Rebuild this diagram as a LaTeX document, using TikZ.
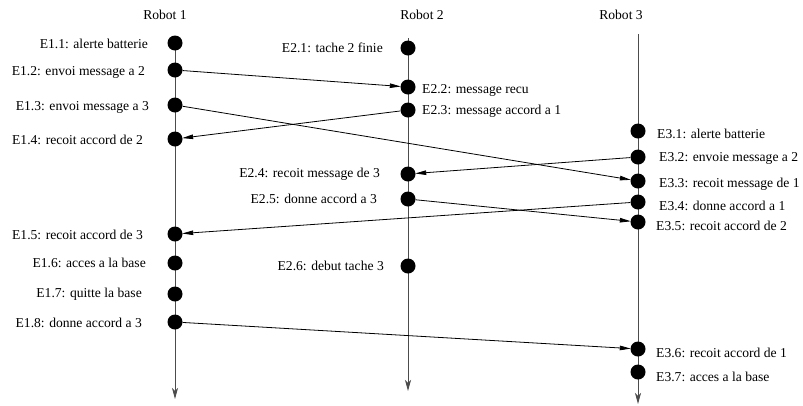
\documentclass[tikz,border=0pt]{standalone}
\usepackage{fontspec}
\setmainfont{Liberation Serif}
\usetikzlibrary{arrows.meta}
\begin{document}
\begin{tikzpicture}[x=1pt,y=-1pt,
  ev/.style={circle,fill=black,inner sep=0pt,minimum size=15pt},
  lbl/.style={inner sep=0pt,font=\fontsize{13.6}{16}\selectfont},
  life/.style={draw=black!70,line width=0.9pt,-{Stealth[length=11pt,width=6pt,inset=3pt]}},
  msg/.style={draw=black,line width=0.8pt,-{Triangle[length=11pt,width=4.5pt]},shorten >=-0.5pt}]
\useasboundingbox (0,0) rectangle (803,405);
% titles
\node[lbl] (t1) at (165,15) {Robot 1};
\node[lbl] (t2) at (422,15) {Robot 2};
\node[lbl] (t3) at (621,15) {Robot 3};
% lifeline ends
\coordinate (s1) at (175,43);
\coordinate (f1) at (175,399);
\coordinate (s2) at (408,38);
\coordinate (f2) at (408,391);
\coordinate (s3) at (638,34);
\coordinate (f3) at (638,404);
\draw[life] (s1) -- (f1);
\draw[life] (s2) -- (f2);
\draw[life] (s3) -- (f3);
% robot 1 events
\node[ev] (e11) at (175,43) {};
\node[ev] (e12) at (175,70) {};
\node[ev] (e13) at (175,105) {};
\node[ev] (e14) at (175,139) {};
\node[ev] (e15) at (175,234) {};
\node[ev] (e16) at (175,263) {};
\node[ev] (e17) at (175,294) {};
\node[ev] (e18) at (175,322) {};
% robot 2 events
\node[ev] (e21) at (408,48) {};
\node[ev] (e22) at (408,87) {};
\node[ev] (e23) at (408,110) {};
\node[ev] (e24) at (408,174) {};
\node[ev] (e25) at (408,199) {};
\node[ev] (e26) at (408,266) {};
% robot 3 events
\node[ev] (e31) at (638,131) {};
\node[ev] (e32) at (638,157) {};
\node[ev] (e33) at (638,181) {};
\node[ev] (e34) at (638,202) {};
\node[ev] (e35) at (638,222) {};
\node[ev] (e36) at (638,349) {};
\node[ev] (e37) at (638,372) {};
% labels robot 1
\node[lbl,anchor=east] (l11) at (148,44) {E1.1: alerte batterie};
\node[lbl,anchor=east] (l12) at (145,72) {E1.2: envoi message a 2};
\node[lbl,anchor=east] (l13) at (149,107) {E1.3: envoi message a 3};
\node[lbl,anchor=east] (l14) at (143,140) {E1.4: recoit accord de 2};
\node[lbl,anchor=east] (l15) at (143,235) {E1.5: recoit accord de 3};
\node[lbl,anchor=east] (l16) at (146,263) {E1.6: acces a la base};
\node[lbl,anchor=east] (l17) at (142,294) {E1.7: quitte la base};
\node[lbl,anchor=east] (l18) at (142,323) {E1.8: donne accord a 3};
% labels robot 2
\node[lbl,anchor=east] (l21) at (383,48) {E2.1: tache 2 finie};
\node[lbl,anchor=west] (l22) at (422,90) {E2.2: message recu};
\node[lbl,anchor=west] (l23) at (422,111) {E2.3: message accord a 1};
\node[lbl,anchor=east] (l24) at (380,174) {E2.4: recoit message de 3};
\node[lbl,anchor=east] (l25) at (377,199) {E2.5: donne accord a 3};
\node[lbl,anchor=east] (l26) at (384,266) {E2.6: debut tache 3};
% labels robot 3
\node[lbl,anchor=west] (l31) at (657,134) {E3.1: alerte batterie};
\node[lbl,anchor=west] (l32) at (659,158) {E3.2: envoie message a 2};
\node[lbl,anchor=west] (l33) at (659,184) {E3.3: recoit message de 1};
\node[lbl,anchor=west] (l34) at (659,206) {E3.4: donne accord a 1};
\node[lbl,anchor=west] (l35) at (656,226) {E3.5: recoit accord de 2};
\node[lbl,anchor=west] (l36) at (656,353) {E3.6: recoit accord de 1};
\node[lbl,anchor=west] (l37) at (656,377) {E3.7: acces a la base};
% messages
\draw[msg] (e12) -- (e22);
\draw[msg] (e13) -- (e33);
\draw[msg] (e23) -- (e14);
\draw[msg] (e32) -- (e24);
\draw[msg] (e25) -- (e35);
\draw[msg] (e34) -- (e15);
\draw[msg] (e18) -- (e36);
\end{tikzpicture}
\end{document}
